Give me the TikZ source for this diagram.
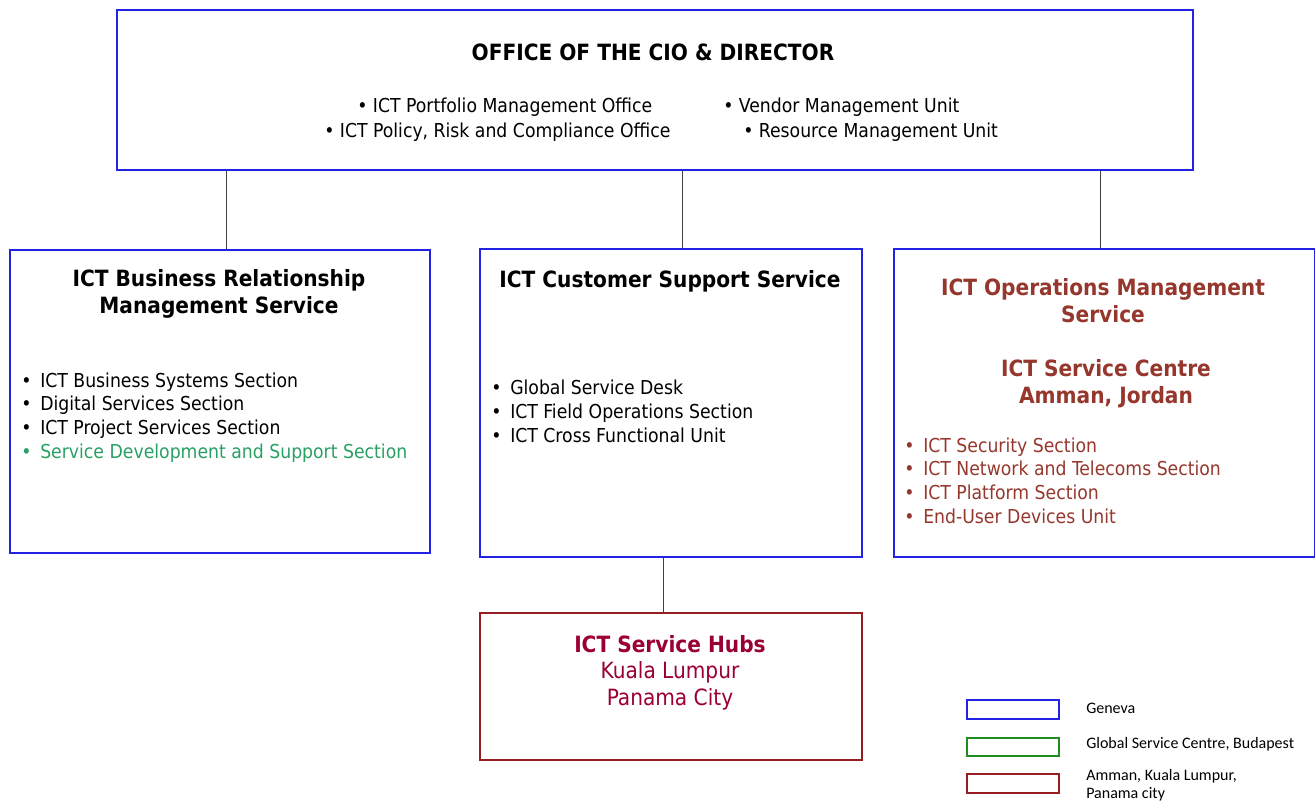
\documentclass[tikz,border=0pt]{standalone}
\usepackage{fontspec}
\setmainfont{DejaVu Sans Condensed}
\newfontfamily\legendfont{Carlito}
\usetikzlibrary{positioning}

\definecolor{genevablue}{RGB}{35,35,230}
\definecolor{budagreen}{RGB}{30,140,30}
\definecolor{ammanred}{RGB}{150,30,35}
\definecolor{omsbrown}{RGB}{150,55,45}
\definecolor{hubred}{RGB}{155,0,50}
\definecolor{sdsgreen}{RGB}{40,160,100}

\newcommand{\bul}{\makebox[14.25pt][l]{\textbullet}}

\begin{document}
\begin{tikzpicture}[x=0.75pt, y=-0.75pt, font=\fontsize{14.4}{17.75}\selectfont]
  \tikzstyle{unit}=[draw=genevablue, line width=1.4pt, rectangle, anchor=north west, inner sep=0pt]
  \tikzstyle{head}=[font=\bfseries\fontsize{16.8}{19.8}\selectfont, align=center, anchor=base, inner sep=0pt]
  \tikzstyle{items}=[align=left, anchor=base west, inner sep=0pt]
  \tikzstyle{key}=[draw, line width=1.2pt, rectangle, anchor=north west, inner sep=0pt, minimum width=69pt]
  \tikzstyle{keytext}=[font=\legendfont\fontsize{12}{13.5}\selectfont, align=left, anchor=base west, inner sep=0pt]
  \tikzstyle{link}=[draw=black!75, line width=0.75pt]

  \useasboundingbox (0,0) rectangle (1315,801);

  % boxes
  \node[unit, minimum width=807pt, minimum height=120pt]     (cio)  at (116,9)   {};
  \node[unit, minimum width=315pt, minimum height=227.25pt]  (brm)  at (9,249)   {};
  \node[unit, minimum width=286.5pt, minimum height=231pt]   (css)  at (479,248) {};
  \node[unit, minimum width=315.75pt, minimum height=231pt]  (oms)  at (893,248) {};
  \node[unit, draw=ammanred, minimum width=286.5pt, minimum height=110.25pt] (hubs) at (479,612) {};

  % office of the cio
  \node[head] (ciotitle) at (653,60) {OFFICE OF THE CIO \& DIRECTOR};
  \node[items] (pmo) at (357,112) {\textbullet\ ICT Portfolio Management Office};
  \node[items] (prc) at (324,137) {\textbullet\ ICT Policy, Risk and Compliance Office};
  \node[items] (vmu) at (723,112) {\textbullet\ Vendor Management Unit};
  \node[items] (rmu) at (743,137) {\textbullet\ Resource Management Unit};

  % services (base = last line)
  \node[head] (brmtitle) at (219,313) {ICT Business Relationship\\Management Service};
  \node[items] (brmlist) at (21,458) {\bul ICT Business Systems Section\\
    \bul Digital Services Section\\
    \bul ICT Project Services Section\\
    \color{sdsgreen}\bul Service Development and Support Section};

  \node[head] (csstitle) at (670,287) {ICT Customer Support Service};
  \node[items] (csslist) at (491,442) {\bul Global Service Desk\\
    \bul ICT Field Operations Section\\
    \bul ICT Cross Functional Unit};

  \node[head, text=omsbrown] (omstitle) at (1103,322) {ICT Operations Management\\Service};
  \node[head, text=omsbrown] (amman) at (1106,403) {ICT Service Centre\\Amman, Jordan};
  \node[items, text=omsbrown] (omslist) at (904,523) {\bul ICT Security Section\\
    \bul ICT Network and Telecoms Section\\
    \bul ICT Platform Section\\
    \bul End-User Devices Unit};

  \node[head, text=hubred] (hubtitle) at (670,652) {ICT Service Hubs};
  \node[head, text=hubred, font=\fontsize{16.8}{20}\selectfont] (hubcities) at (670,705) {Kuala Lumpur\\Panama City};

  % connectors
  \draw[link] ([xshift=5.25pt]brm.north) -- ([xshift=5.25pt]brm.north |- cio.south);
  \draw[link] ([xshift=9pt]css.north) -- ([xshift=9pt]css.north |- cio.south);
  \draw[link] ([xshift=-2.6pt]oms.north) -- ([xshift=-2.6pt]oms.north |- cio.south);
  \draw[link] ([xshift=-5.25pt]hubs.north) -- ([xshift=-5.25pt]hubs.north |- css.south);

  % legend
  \node[key, draw=genevablue, minimum height=14.25pt] (kgeneva) at (966,699) {};
  \node[key, draw=budagreen, minimum height=13.5pt]   (kbuda)   at (966,737) {};
  \node[key, draw=ammanred, minimum height=14.25pt]   (kamman)  at (966,773) {};
  \node[keytext] (tgeneva) at (1086,713) {Geneva};
  \node[keytext] (tbuda)   at (1086,748) {Global Service Centre, Budapest};
  \node[keytext] (tamman)  at (1086,798) {Amman, Kuala Lumpur,\\Panama city};
\end{tikzpicture}
\end{document}
